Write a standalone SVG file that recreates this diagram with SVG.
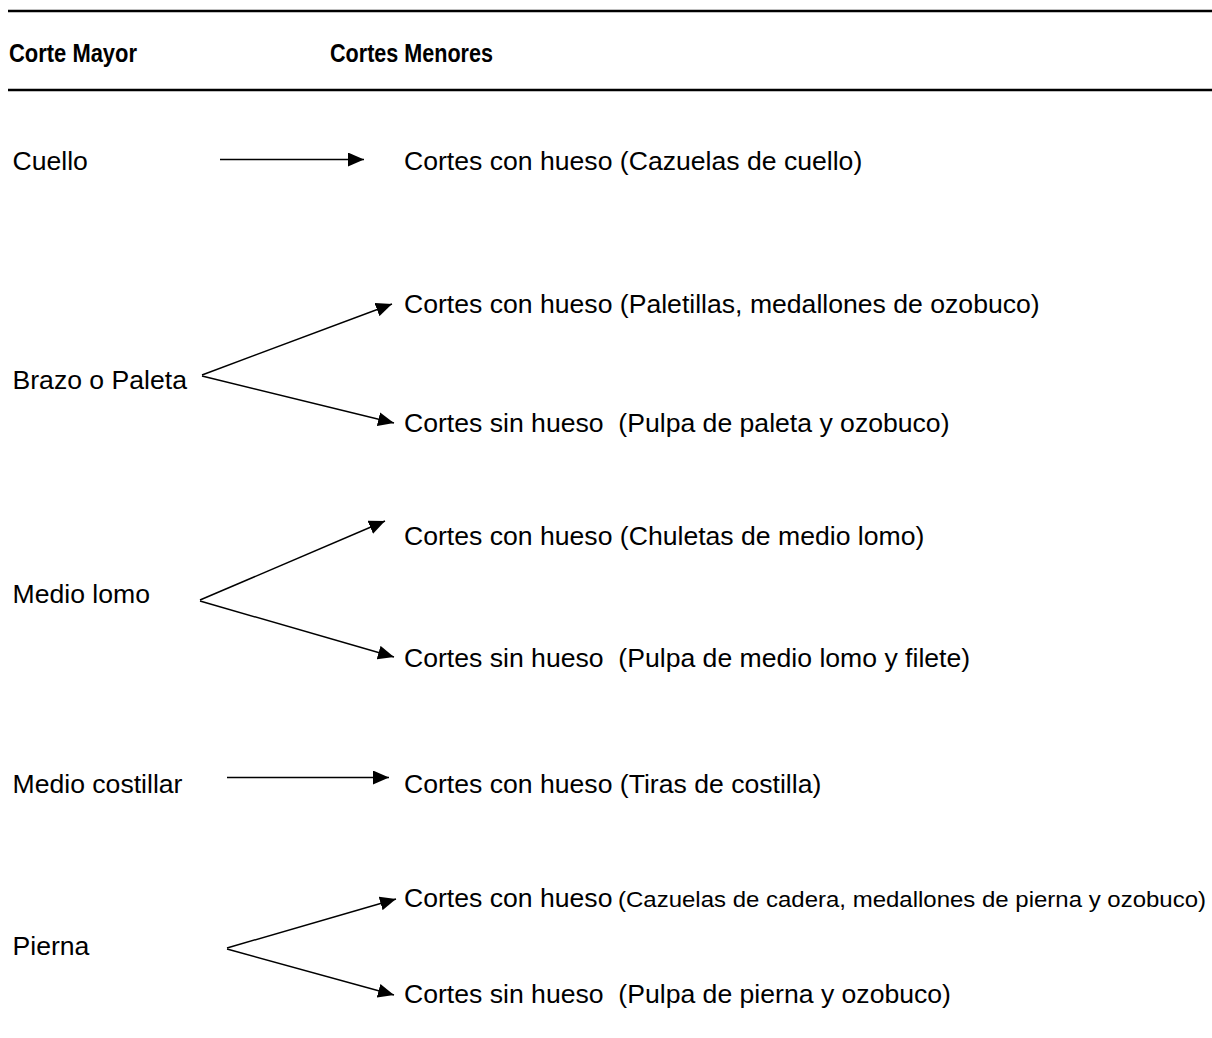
<svg xmlns="http://www.w3.org/2000/svg" width="1212" height="1038" viewBox="0 0 1212 1038">
<style>
  text { font-family: "Liberation Sans", Arial, sans-serif; fill: #000; white-space: pre; }
  .h { font-weight: bold; font-size: 26.5px; }
  .t { font-size: 26.6px; }
  .s { font-size: 21.5px; }
  .rule { stroke: #000; stroke-width: 2.5; }
  .c { stroke: #000; stroke-width: 1.5; fill: none; marker-end: url(#ah); }
</style>
<defs>
  <marker id="ah" viewBox="0 0 16 14" refX="16" refY="7" markerWidth="16" markerHeight="14" markerUnits="userSpaceOnUse" orient="auto">
    <path d="M0,0 L16,7 L0,14 Z" fill="#000"/>
  </marker>
</defs>
<rect width="1212" height="1038" fill="#fff"/>
<g id="header">
  <line class="rule" x1="8" y1="11" x2="1212" y2="11"/>
  <line class="rule" x1="8" y1="90" x2="1212" y2="90"/>
  <text class="h" x="9" y="61.5" textLength="128" lengthAdjust="spacingAndGlyphs">Corte Mayor</text>
  <text class="h" x="330" y="61.5" textLength="163" lengthAdjust="spacingAndGlyphs">Cortes Menores</text>
</g>
<g id="connectors">
  <path class="c" d="M220,159.5 L364,159.5"/>
  <path class="c" d="M202,375 L392,304"/>
  <path class="c" d="M202,376 L394,423"/>
  <path class="c" d="M200,600 L385,521"/>
  <path class="c" d="M200,601 L394,657"/>
  <path class="c" d="M227,777.5 L389,777.5"/>
  <path class="c" d="M227,948 L396,899"/>
  <path class="c" d="M227,949 L394,995"/>
</g>
<g id="n-cuello"><text class="t" x="12.5" y="170">Cuello</text></g>
<g id="n-cuello-hueso"><text class="t" x="404" y="170">Cortes con hueso (Cazuelas de cuello)</text></g>
<g id="n-brazo"><text class="t" x="12.5" y="389">Brazo o Paleta</text></g>
<g id="n-brazo-hueso"><text class="t" x="404" y="313">Cortes con hueso (Paletillas, medallones de ozobuco)</text></g>
<g id="n-brazo-sin"><text class="t" x="404" y="432">Cortes sin hueso  (Pulpa de paleta y ozobuco)</text></g>
<g id="n-lomo"><text class="t" x="12.5" y="602.5">Medio lomo</text></g>
<g id="n-lomo-hueso"><text class="t" x="404" y="545">Cortes con hueso (Chuletas de medio lomo)</text></g>
<g id="n-lomo-sin"><text class="t" x="404" y="667">Cortes sin hueso  (Pulpa de medio lomo y filete)</text></g>
<g id="n-costillar"><text class="t" x="12.5" y="793">Medio costillar</text></g>
<g id="n-costillar-hueso"><text class="t" x="404" y="793">Cortes con hueso (Tiras de costilla)</text></g>
<g id="n-pierna"><text class="t" x="12.5" y="955">Pierna</text></g>
<g id="n-pierna-hueso">
  <text class="t" x="404" y="907">Cortes con hueso</text>
  <text class="s" x="618" y="907" textLength="588" lengthAdjust="spacingAndGlyphs">(Cazuelas de cadera, medallones de pierna y ozobuco)</text>
</g>
<g id="n-pierna-sin"><text class="t" x="404" y="1003">Cortes sin hueso  (Pulpa de pierna y ozobuco)</text></g>
</svg>
